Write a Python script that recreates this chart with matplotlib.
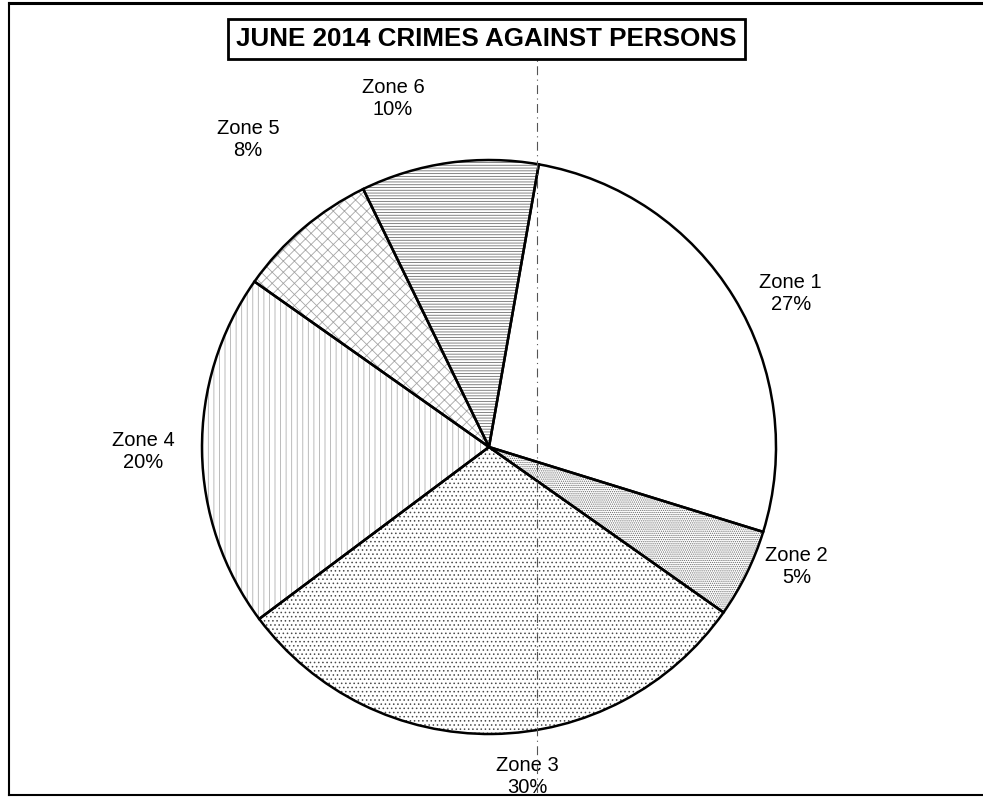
import numpy as np
import matplotlib
matplotlib.use("Agg")
import matplotlib.pyplot as plt
from matplotlib.lines import Line2D

plt.rcParams['font.family'] = ['Liberation Sans', 'DejaVu Sans']
plt.rcParams['hatch.linewidth'] = 0.6

zones = ["Zone 1", "Zone 2", "Zone 3", "Zone 4", "Zone 5", "Zone 6"]
share = [27, 5, 30, 20, 8, 10]

# fill look of each slice (scanned b/w print)
hatches = [None, "........", "....", "|||", "xxx", "------"]
hcolors = ["white", "#6a6a6a", "#4a4a4a", "#b0b0b0", "#a5a5a5", "#707070"]
# label placement: distance in radii, angle shift in degrees
ldist = [1.18, 1.15, 1.157, 1.206, 1.36, 1.26]
lshift = [-4.4, 5.0, 5.8, 0.0, -2.3, 7.4]

W, H = 983, 797
fig = plt.figure(figsize=(W / 100, H / 100), dpi=100)

# pie centre at (489, 447) px, radius 287 px
cx, cy, R, half = 489, 447, 287, 340
ax = fig.add_axes([(cx - half) / W, (H - cy - half) / H, 2 * half / W, 2 * half / H])

wedges, _ = ax.pie(share, startangle=80, counterclock=False,
                   wedgeprops=dict(linewidth=0, facecolor="white"))
for w, h, c in zip(wedges, hatches, hcolors):
    if h:
        w.set_hatch(h)
        w.set_edgecolor(c)

# black outlines on top
outl, _ = ax.pie(share, startangle=80, counterclock=False,
                 wedgeprops=dict(linewidth=1.8, edgecolor="black", fill=False))

for w, name, p, d, s in zip(wedges, zones, share, ldist, lshift):
    mid = np.deg2rad((w.theta1 + w.theta2) / 2 + s)
    ax.text(d * np.cos(mid), d * np.sin(mid), f"{name}\n{p}%",
            ha="center", va="center", fontsize=14.5, linespacing=1.2)

lim = half / R
ax.set_xlim(-lim, lim)
ax.set_ylim(-lim, lim)
ax.set_aspect("equal")
ax.axis("off")

# title in a box
fig.text(486.5 / W, 1 - 39 / H, "JUNE 2014 CRIMES AGAINST PERSONS",
         ha="center", va="center", fontsize=18.7, fontweight="bold",
         bbox=dict(boxstyle="square,pad=0.3", facecolor="white",
                   edgecolor="black", linewidth=2))

# page frame
fig.add_artist(Line2D([9 / W, 9 / W], [1 - 3 / H, 1 - 795 / H], color="black", lw=1.5))
fig.add_artist(Line2D([9 / W, 1], [1 - 3 / H, 1 - 3 / H], color="black", lw=2.2))
fig.add_artist(Line2D([9 / W, 1], [1 - 795 / H, 1 - 795 / H], color="black", lw=1.5))
# fold line of the scan
fig.add_artist(Line2D([537 / W, 537 / W], [1 - 28 / H, 0], color="#555555",
                      lw=0.8, linestyle=(0, (8, 4, 1, 4))))

fig.savefig("out.png", dpi=100, facecolor="white")
